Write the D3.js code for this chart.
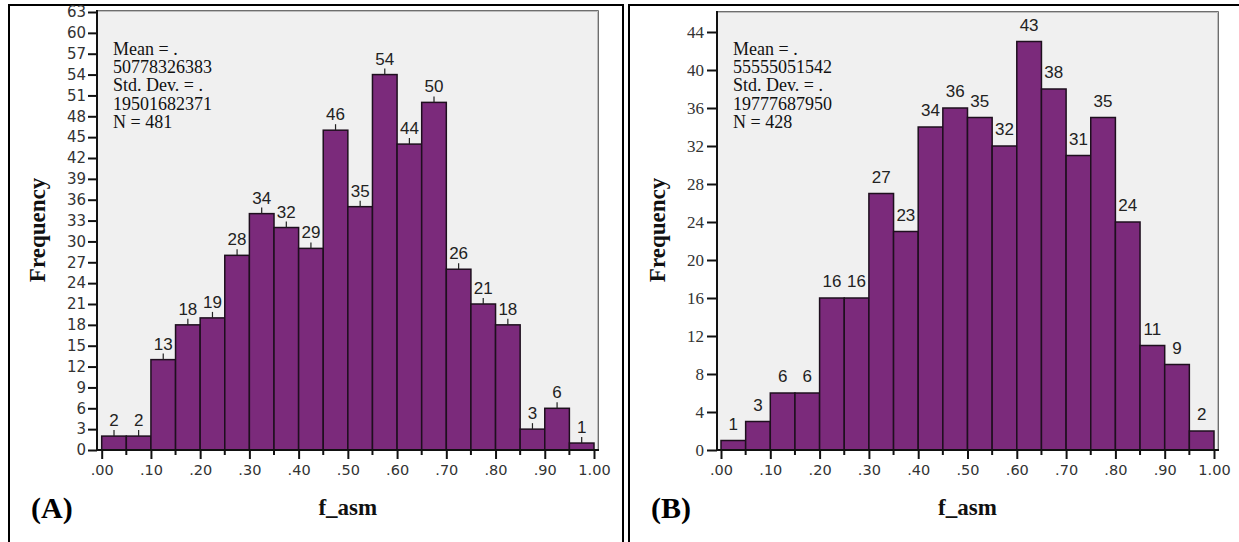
<!DOCTYPE html>
<html>
<head>
<meta charset="utf-8">
<script src="https://cdn.jsdelivr.net/npm/d3@7"></script>
<style>
  body { margin: 0; background: #fff; }
</style>
</head>
<body>
<div class="chart"></div>
<script>
'use strict'
// bins of f_asm, width .05
const binStarts = [0, 0.05, 0.10, 0.15, 0.20, 0.25, 0.30, 0.35, 0.40, 0.45, 0.50, 0.55, 0.60, 0.65, 0.70, 0.75, 0.80, 0.85, 0.90, 0.95]
const binWidth = 0.05
const countsA = [2, 2, 13, 18, 19, 28, 34, 32, 29, 46, 35, 54, 44, 50, 26, 21, 18, 3, 6, 1]
const countsB = [1, 3, 6, 6, 16, 16, 27, 23, 34, 36, 35, 32, 43, 38, 31, 35, 24, 11, 9, 2]
const xTicks = [0, 0.1, 0.2, 0.3, 0.4, 0.5, 0.6, 0.7, 0.8, 0.9, 1]
const yTicksA = [0, 3, 6, 9, 12, 15, 18, 21, 24, 27, 30, 33, 36, 39, 42, 45, 48, 51, 54, 57, 60, 63]
const yTicksB = [0, 4, 8, 12, 16, 20, 24, 28, 32, 36, 40, 44]
const statsA = ['Mean = .', '50778326383', 'Std. Dev. = .', '19501682371', 'N = 481']
const statsB = ['Mean = .', '55555051542', 'Std. Dev. = .', '19777687950', 'N = 428']

const width = 1239
const height = 542

const serif = '"Liberation Serif", "Times New Roman", serif'
const sans = '"Liberation Sans", Arial, sans-serif'
const wide = '"DejaVu Sans", Verdana, sans-serif'

const svg = d3.select('.chart').append('svg')
  .attr('width', width)
  .attr('height', height)
  .style('display', 'block')

svg.append('rect').attr('width', width).attr('height', height).attr('fill', '#fff')

const panels = [
  { tag: '(A)', counts: countsA, stats: statsA, yTicks: yTicksA, yMax: 63, frame: [9, 623], plot: { left: 97, right: 599, top: 10, bottom: 450 }, xr: [101.7, 594], yTop: 12, tickFont: wide, tickSize: '15px', tickLen: 9, tickPad: 2, marks: true, labelGap: 10 },
  { tag: '(B)', counts: countsB, stats: statsB, yTicks: yTicksB, yMax: 44, frame: [629, 1250], plot: { left: 717, right: 1219, top: 11, bottom: 450 }, xr: [721, 1214], yTop: 32, tickFont: serif, tickSize: '17px', tickLen: 10, tickPad: 3, marks: false, labelGap: 11 }
]

panels.forEach(function (p) {
  const g = svg.append('g')

  // outer frame
  g.append('rect')
    .attr('x', p.frame[0])
    .attr('y', 5)
    .attr('width', p.frame[1] - p.frame[0])
    .attr('height', 560)
    .attr('fill', 'none')
    .attr('stroke', '#000')
    .attr('stroke-width', 2)

  const x = d3.scaleLinear().domain([0, 1]).range(p.xr)
  const y = d3.scaleLinear().domain([0, p.yMax]).range([p.plot.bottom, p.yTop])

  // plot background
  g.append('rect')
    .attr('x', p.plot.left)
    .attr('y', p.plot.top)
    .attr('width', p.plot.right - p.plot.left)
    .attr('height', p.plot.bottom - p.plot.top)
    .attr('fill', '#f0f0f0')
  g.append('path')
    .attr('d', 'M' + p.plot.left + ',' + (p.plot.top + 0.5) + 'H' + (p.plot.right - 0.5) + 'V' + p.plot.bottom)
    .attr('fill', 'none')
    .attr('stroke', '#6e6e6e')
    .attr('stroke-width', 1)
  g.append('path')
    .attr('d', 'M' + p.plot.left + ',' + (p.plot.top + 1.5) + 'H' + (p.plot.right - 1.5) + 'V' + p.plot.bottom)
    .attr('fill', 'none')
    .attr('stroke', '#bdbdbd')
    .attr('stroke-width', 1)

  // bars
  g.append('g').selectAll('rect')
    .data(p.counts)
    .enter().append('rect')
    .attr('x', function (d, i) { return x(binStarts[i]) })
    .attr('y', function (d) { return y(d) })
    .attr('width', function (d, i) { return x(binStarts[i] + binWidth) - x(binStarts[i]) })
    .attr('height', function (d) { return y(0) - y(d) })
    .attr('fill', '#7b2a7b')
    .attr('stroke', '#1e0f1e')
    .attr('stroke-width', 1.5)

  // little marks on top of the bars (panel A only)
  if (p.marks) {
    g.append('g').selectAll('line')
      .data(p.counts)
      .enter().append('line')
      .attr('x1', function (d, i) { return x(binStarts[i] + binWidth / 2) })
      .attr('x2', function (d, i) { return x(binStarts[i] + binWidth / 2) })
      .attr('y1', function (d) { return y(d) })
      .attr('y2', function (d) { return y(d) - 6 })
      .attr('stroke', '#222')
      .attr('stroke-width', 1.2)
  }

  // bar labels
  g.append('g').selectAll('text')
    .data(p.counts)
    .enter().append('text')
    .attr('x', function (d, i) { return x(binStarts[i] + binWidth / 2) })
    .attr('y', function (d) { return y(d) - p.labelGap })
    .attr('text-anchor', 'middle')
    .style('font-family', sans)
    .style('font-size', '17px')
    .attr('fill', '#222')
    .text(function (d) { return d })

  // y axis
  const yAxis = g.append('g')
    .attr('transform', 'translate(' + p.plot.left + ',0)')
    .call(d3.axisLeft(y).tickValues(p.yTicks).tickSize(p.tickLen).tickPadding(p.tickPad).tickFormat(d3.format('d')))
  yAxis.select('.domain').remove()
  yAxis.selectAll('line').attr('stroke', '#111').attr('stroke-width', 2)
  yAxis.selectAll('text')
    .style('font-family', p.tickFont)
    .style('font-size', p.tickSize)
    .attr('fill', '#333')

  // x axis
  const xAxis = g.append('g')
    .attr('transform', 'translate(0,' + p.plot.bottom + ')')
    .call(d3.axisBottom(x).tickValues(xTicks).tickSize(9).tickPadding(6)
      .tickFormat(function (d) { return d === 1 ? '1.00' : d3.format('.2f')(d).slice(1) }))
  xAxis.select('.domain').remove()
  xAxis.selectAll('line').attr('stroke', '#111').attr('stroke-width', 2)
  xAxis.selectAll('text')
    .style('font-family', wide)
    .style('font-size', '14.5px')
    .attr('fill', '#333')

  // minor ticks at bin edges
  g.append('g').selectAll('line')
    .data(binStarts.filter(function (d, i) { return i % 2 === 1 }))
    .enter().append('line')
    .attr('x1', function (d) { return x(d) })
    .attr('x2', function (d) { return x(d) })
    .attr('y1', p.plot.bottom)
    .attr('y2', p.plot.bottom + 5)
    .attr('stroke', '#111')
    .attr('stroke-width', 2)

  // axis lines
  g.append('line')
    .attr('x1', p.plot.left).attr('x2', p.plot.left)
    .attr('y1', p.plot.top).attr('y2', p.plot.bottom + 1)
    .attr('stroke', '#111').attr('stroke-width', 2)
  g.append('line')
    .attr('x1', p.plot.left - 1).attr('x2', p.plot.right)
    .attr('y1', p.plot.bottom).attr('y2', p.plot.bottom)
    .attr('stroke', '#111').attr('stroke-width', 2)

  // stats text
  g.append('text')
    .attr('y', 55)
    .style('font-family', serif)
    .style('font-size', '18px')
    .attr('fill', '#111')
    .selectAll('tspan')
    .data(p.stats)
    .enter().append('tspan')
    .attr('x', p.plot.left + 16)
    .attr('dy', function (d, i) { return i === 0 ? 0 : 18.2 })
    .text(function (d) { return d })

  // axis titles
  g.append('text')
    .attr('transform', 'translate(' + (p.plot.left - 52) + ',230)rotate(-90)')
    .attr('text-anchor', 'middle')
    .style('font-family', serif)
    .style('font-size', '23px')
    .style('font-weight', 'bold')
    .attr('fill', '#111')
    .text('Frequency')

  g.append('text')
    .attr('x', (p.xr[0] + p.xr[1]) / 2)
    .attr('y', 515)
    .attr('text-anchor', 'middle')
    .style('font-family', serif)
    .style('font-size', '23px')
    .style('font-weight', 'bold')
    .attr('fill', '#111')
    .text('f_asm')

  g.append('text')
    .attr('x', p.frame[0] + 22)
    .attr('y', 518)
    .style('font-family', serif)
    .style('font-size', '30px')
    .style('font-weight', 'bold')
    .attr('fill', '#000')
    .text(p.tag)
})
</script>
</body>
</html>
